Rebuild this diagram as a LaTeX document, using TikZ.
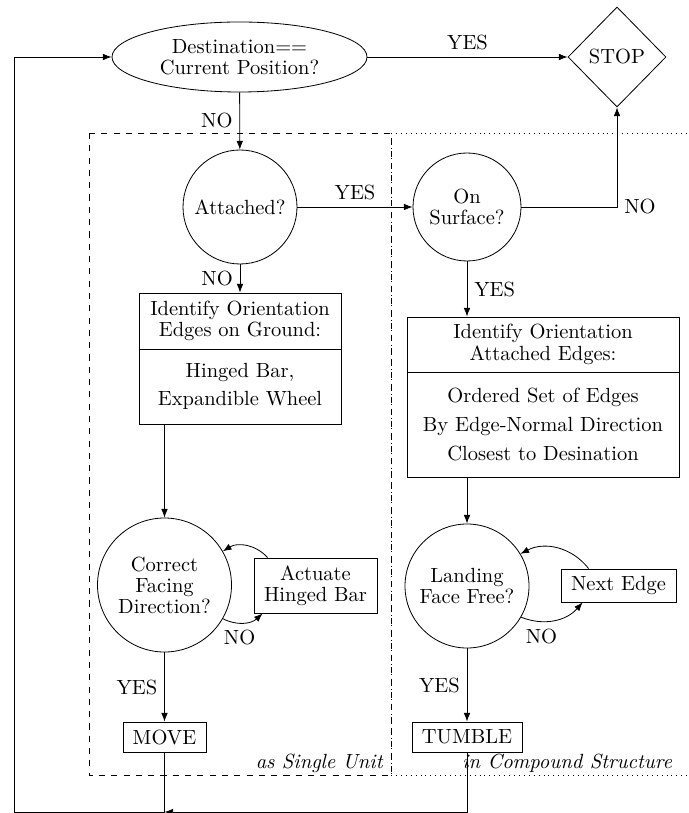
\documentclass[tikz,border=0pt]{standalone}
\usetikzlibrary{shapes.geometric,arrows.meta}
\def\pxu{0.4878pt}
\newcommand\tightfont{\fontsize{10}{10.25}\selectfont}
\newcommand\loosefont{\fontsize{10}{14}\selectfont}
\begin{document}
\begin{tikzpicture}[x=\pxu, y=-\pxu,
  >={Latex[length=4.2pt,width=3.2pt]},
  every node/.style={font=\tightfont},
  circ/.style={draw, circle, inner sep=0pt, align=center},
  boxnode/.style={draw, rectangle, inner sep=0pt, align=center},
  txt/.style={align=center, inner sep=0pt},
  flow/.style={->}]
\useasboundingbox (0,0) rectangle (688,813);

% frames
\coordinate (fTL) at (89,133);
\coordinate (fMB) at (391,775);
\coordinate (fMT) at (391,133);
\coordinate (fRT) at (690,133);
\coordinate (fRB) at (690,775);
\draw[dashed] (fTL) rectangle (fMB);
\draw[dotted] (fMT) -- (fRT);
\draw[dotted] (fMB) -- (fRB);
\draw[dotted] (fMT) -- (fMB);
\node[font=\itshape, anchor=base east, inner sep=0pt] (lsu) at (383,768) {as Single Unit};
\node[font=\itshape, anchor=base west, inner sep=0pt] (lcs) at (462,768) {in Compound Structure};

% nodes
\node[ellipse, draw, minimum width=255*\pxu, minimum height=70*\pxu, inner sep=0pt, align=center] (dest) at (239.5,57) {Destination==\\Current Position?};
\node[diamond, draw, minimum width=98*\pxu, minimum height=100*\pxu, inner sep=0pt] (stop) at (617,57) {STOP};
\node[circ, minimum size=114*\pxu] (att) at (240,207) {Attached?};
\node[circ, minimum size=108*\pxu] (surf) at (467,207) {On\\Surface?};

\node[boxnode, minimum width=202*\pxu, minimum height=131*\pxu] (ground) at (240,358.5) {};
\node[txt] (groundtop) at (240,321) {Identify Orientation\\Edges on Ground:};
\node[txt, font=\loosefont] (groundbot) at (240,386.5) {Hinged Bar,\\Expandible Wheel};
\coordinate (gdiv) at (240,349);
\draw (ground.west |- gdiv) -- (ground.east |- gdiv);

\node[boxnode, minimum width=272*\pxu, minimum height=160*\pxu] (attbox) at (543,397) {};
\node[txt, font=\fontsize{10}{10.7}\selectfont] (attboxtop) at (543,344.5) {Identify Orientation\\Attached Edges:};
\node[txt, font=\loosefont] (attboxbot) at (543,424.5) {Ordered Set of Edges\\By Edge-Normal Direction\\Closest to Desination};
\coordinate (adiv) at (543,372);
\draw (attbox.west |- adiv) -- (attbox.east |- adiv);

\node[circ, minimum size=134*\pxu] (corr) at (164.5,585) {Correct\\Facing\\Direction?};
\node[boxnode, minimum width=123*\pxu, minimum height=55*\pxu] (act) at (315.5,585.5) {Actuate\\Hinged Bar};
\node[circ, minimum size=124*\pxu] (land) at (467,586) {Landing\\Face Free?};
\node[boxnode, minimum width=115*\pxu, minimum height=33*\pxu] (next) at (618.5,585.5) {Next Edge};
\node[boxnode, minimum width=83*\pxu, minimum height=30*\pxu] (move) at (164.5,737) {MOVE};
\node[boxnode, minimum width=110*\pxu, minimum height=30*\pxu] (tumble) at (467,737) {TUMBLE};

% connectors
\draw[flow] (dest) -- node[above] (l1) {YES} (stop);
\draw[flow] (dest) -- node[left] (l2) {NO} (att);
\draw[flow] (att) -- node[above] (l3) {YES} (surf);
\draw[flow] (surf) -| node[pos=0.5, right] (l4) {NO} (stop);
\draw[flow] (surf) -- node[right] (l5) {YES} (surf |- attbox.north);
\draw[flow] (att) -- node[left] (l6) {NO} (ground);
\draw[flow] (ground.south) -| (corr);
\draw[flow] (attbox.south) -| (land);
\draw[flow] (corr.-30) to[bend right=35] node[below, pos=0.4] (l7) {NO} ([xshift=9*\pxu]act.south west);
\draw[flow] ([xshift=14*\pxu]act.north west) to[bend right=40] (corr.30);
\draw[flow] (land.-30) to[bend right=35] node[below, pos=0.3] (l8) {NO} ([xshift=22*\pxu]next.south west);
\draw[flow] ([xshift=28*\pxu]next.north west) to[bend right=40] (land.31);
\draw[flow] (corr) -- node[left] (l9) {YES} (move);
\draw[flow] (land) -- node[left] (l10) {YES} (tumble);

\coordinate (bl) at (14,812);
\coordinate (bm) at (164.5,812);
\coordinate (br) at (467,812);
\draw[flow] (move) -- (bm) -- (bl) |- (dest);
\draw[flow] (tumble) -- (br) -- (bm);
\end{tikzpicture}
\end{document}
